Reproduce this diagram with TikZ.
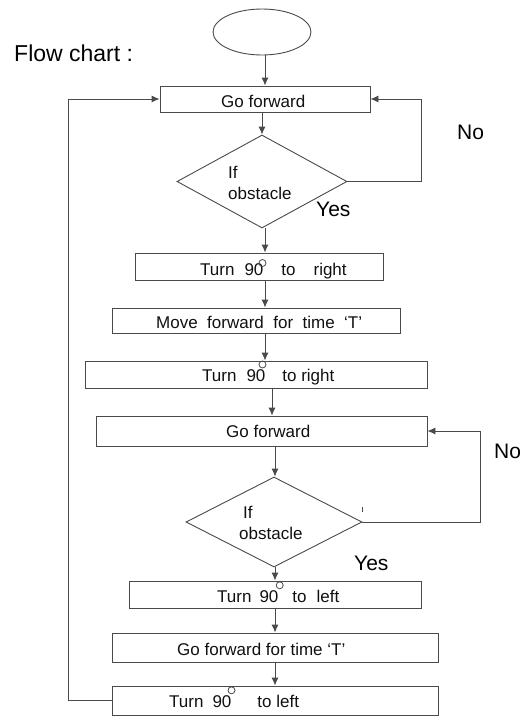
\documentclass[tikz,border=0pt]{standalone}
\usepackage{fontspec}
\setmainfont{Liberation Sans}
\usetikzlibrary{shapes.geometric,arrows.meta}
\definecolor{ln}{HTML}{4A4A4A}
\definecolor{tx}{HTML}{111111}
\begin{document}
\begin{tikzpicture}[x=1pt,y=-1pt,
  box/.style={draw=ln,line width=0.9pt,rectangle,inner sep=0pt},
  dia/.style={draw=ln,line width=0.9pt,diamond,inner sep=0pt},
  txt/.style={font=\fontsize{17}{20}\selectfont,text=tx,inner sep=0pt,anchor=base west},
  big/.style={font=\fontsize{21}{24}\selectfont,text=black,inner sep=0pt,anchor=base west},
  arr/.style={draw=ln,line width=0.9pt,-{Latex[length=8pt,width=7pt]}},
  deg/.style={draw=ln,line width=0.8pt}]
\useasboundingbox (0,0) rectangle (520,716);
\fill[white] (0,0) rectangle (520,716);
% shapes
\node[draw=ln,line width=0.9pt,ellipse,minimum width=98pt,minimum height=46pt,inner sep=0pt] (e) at (262,32) {};
\node[box,minimum width=210pt,minimum height=26pt] (b1) at (265,99) {};
\node[dia,minimum width=170pt,minimum height=93pt] (d1) at (262,181.5) {};
\node[box,minimum width=248pt,minimum height=27pt] (b2) at (259,266.5) {};
\node[box,minimum width=288pt,minimum height=25pt] (b3) at (256,320.5) {};
\node[box,minimum width=342pt,minimum height=27pt] (b4) at (256,374.5) {};
\node[box,minimum width=331pt,minimum height=30pt] (b5) at (261.5,431) {};
\node[dia,minimum width=176pt,minimum height=90pt] (d2) at (274,522) {};
\node[box,minimum width=292pt,minimum height=27pt] (b6) at (275,594.5) {};
\node[box,minimum width=326pt,minimum height=29pt] (b7) at (275,647.5) {};
\node[box,minimum width=326pt,minimum height=29pt] (b8) at (275,700.5) {};
\coordinate (s1) at (265,0);
\coordinate (s2) at (272,0);
\coordinate (s3) at (275,0);
% texts
\node[font=\fontsize{23}{26}\selectfont,text=black,inner sep=0pt,anchor=base west] (t0) at (14,61) {Flow chart :};
\node[txt] (t1) at (221,107) {Go forward};
\node[txt] (t2a) at (228,178.3) {If};
\node[txt] (t2b) at (228,199.3) {obstacle};
\node[big] (y1) at (316,216.7) {Yes};
\node[big] (n1) at (457,139) {No};
\node[txt] (t3) at (200,275) {Turn\hspace{10pt}90\hspace{18pt}to\hspace{18pt}right};
\node[txt] (t4) at (156,328) {Move\ \ forward\ \ for\ \ time\ \ ‘T’};
\node[txt] (t5) at (202,381.7) {Turn\hspace{10pt}90\hspace{17pt}to right};
\node[txt] (t6) at (226,437) {Go forward};
\node[big] (n2) at (494,458) {No};
\node[txt] (t7a) at (243,518.3) {If};
\node[txt] (t7b) at (239,539.3) {obstacle};
\node[big] (y2) at (354,570) {Yes};
\node[txt] (t8) at (217,602.7) {Turn\hspace{8pt}90\hspace{14pt}to\hspace{10pt}left};
\node[txt] (t9) at (177,655) {Go forward for time ‘T’};
\node[txt] (t10) at (169,707.7) {Turn\hspace{9pt}90\hspace{26pt}to left};
% degree circles
\draw[deg] (262.5,263) circle (3.5pt);
\draw[deg] (262.5,364.5) circle (3.5pt);
\draw[deg] (279.7,585.3) circle (3.5pt);
\draw[deg] (231.5,690.3) circle (3.5pt);
\draw[draw=ln,line width=0.6pt] (362,507) -- (362,512);
% connectors
\draw[arr] (e.south -| s1) -- (b1.north -| s1);
\draw[arr] (b1.south -| d1) -- (d1.north);
\draw[arr] (d1.east) -- ++(74,0) |- (b1.east);
\draw[arr] (d1.south -| s1) -- (b2.north -| s1);
\draw[arr] (b2.south -| s1) -- (b3.north -| s1);
\draw[arr] (b3.south -| s1) -- (b4.north -| s1);
\draw[arr] (b4.south -| s2) -- (b5.north -| s2);
\draw[arr] (b5.south -| s3) -- (d2.north -| s3);
\draw[arr] (d2.east) -- ++(118,0) |- (b5.east);
\draw[arr] (d2.south -| s3) -- (b6.north -| s3);
\draw[arr] (b6.south -| s3) -- (b7.north -| s3);
\draw[arr] (b7.south -| s3) -- (b8.north -| s3);
\draw[arr] (b8.west) -- ++(-43,0) |- (b1.west);
\end{tikzpicture}
\end{document}
